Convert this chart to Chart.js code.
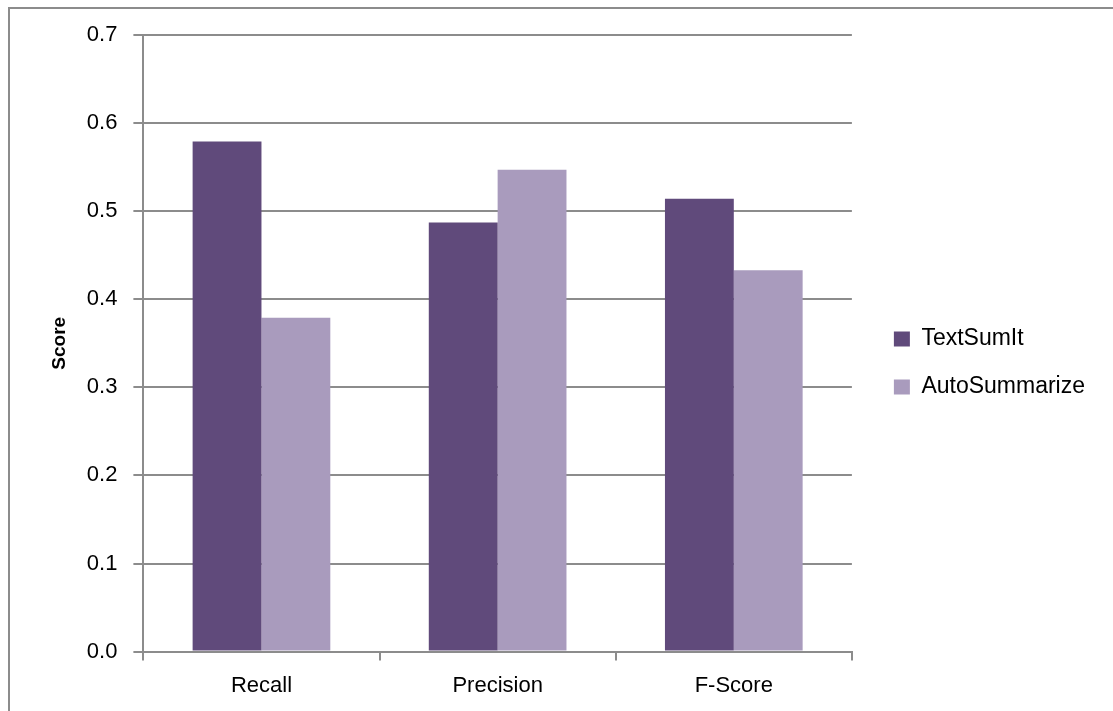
<!DOCTYPE html>
<html>
<head>
<meta charset="utf-8">
<script src="https://cdn.jsdelivr.net/npm/chart.js@4/dist/chart.umd.min.js"></script>
<style>
  body { margin: 0; background: #fff; }
  #wrap { position: relative; width: 1113px; height: 711px; }
  #frame { position: absolute; left: 8px; top: 7px; right: -4px; bottom: -4px; border: 2px solid #8c8c8c; }
</style>
</head>
<body>
<div id="wrap">
  <div id="frame"></div>
  <canvas id="chart" width="1113" height="711"></canvas>
</div>
<script>
const categories = ['Recall', 'Precision', 'F-Score'];
const textSumIt = [0.579, 0.487, 0.514];
const autoSummarize = [0.379, 0.547, 0.433];
const yTicks = [0, 0.1, 0.2, 0.3, 0.4, 0.5, 0.6, 0.7];

// push the legend a bit away from the plot, without changing the item spacing
const legendShift = {
    id: 'legendShift',
    afterLayout(chart) {
        if (chart.legend) {
            chart.legend.left += 17;
            chart.legend.right += 17;
            chart.legend.top -= 10;
            chart.legend.bottom -= 10;
        }
    }
};

const ctx = document.getElementById('chart');

const CHART = new Chart(ctx, {
    type: 'bar',
    data: {
        labels: categories,
        datasets: [{
            label: 'TextSumIt',
            data: textSumIt,
            backgroundColor: '#604a7b',
            borderWidth: 0
        }, {
            label: 'AutoSummarize',
            data: autoSummarize,
            backgroundColor: '#a99bbd',
            borderWidth: 0
        }]
    },
    options: {
        responsive: false,
        animation: false,
        layout: {
            padding: { left: 48, top: 35, right: 35, bottom: 0 }
        },
        datasets: {
            bar: {
                barPercentage: 1,
                categoryPercentage: 0.583
            }
        },
        plugins: {
            tooltip: { enabled: false },
            legend: {
                position: 'right',
                align: 'center',
                labels: {
                    color: '#000',
                    boxWidth: 16,
                    boxHeight: 15,
                    padding: 25,
                    font: { family: 'Liberation Sans', size: 23 }
                }
            }
        },
        scales: {
            x: {
                grid: {
                    display: true,
                    offset: true,
                    drawOnChartArea: false,
                    color: '#8c8c8c',
                    lineWidth: 2,
                    tickLength: 9
                },
                border: { color: '#8c8c8c', width: 2 },
                ticks: {
                    color: '#000',
                    padding: 12,
                    font: { family: 'Liberation Sans', size: 22 }
                }
            },
            y: {
                min: 0,
                max: 0.7,
                afterBuildTicks: function (axis) {
                    axis.ticks = yTicks.map(v => ({ value: v }));
                },
                grid: {
                    color: '#8c8c8c',
                    lineWidth: 2,
                    tickLength: 10
                },
                border: { color: '#8c8c8c', width: 2 },
                ticks: {
                    color: '#000',
                    padding: 16,
                    font: { family: 'Liberation Sans', size: 22 },
                    callback: function (v) { return Number(v).toFixed(1); }
                },
                title: {
                    display: true,
                    text: 'Score',
                    color: '#000',
                    padding: 0,
                    font: { family: 'Liberation Sans', size: 19, weight: 'bold' }
                }
            }
        }
    },
    plugins: [legendShift]
});
</script>
</body>
</html>
